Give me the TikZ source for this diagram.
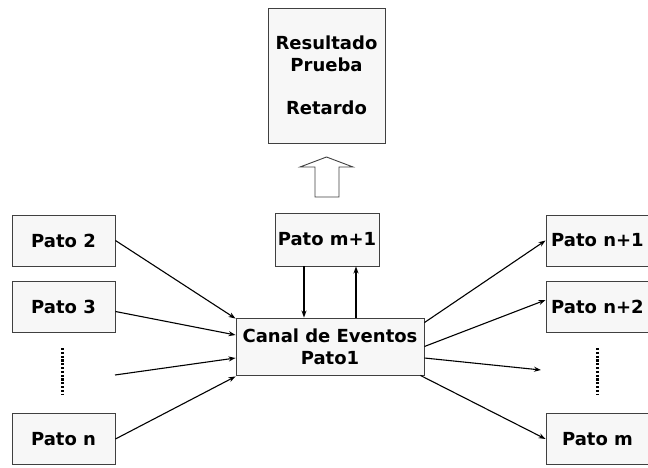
\documentclass[tikz,border=0pt]{standalone}
\usepackage{fontspec}
\setmainfont{DejaVu Sans}
\usetikzlibrary{arrows.meta}
\tikzset{
  box/.style={draw=black!75, line width=0.9pt, fill=black!3, inner sep=0pt, align=center,
    font=\bfseries\fontsize{18}{21.7}\selectfont},
  conn/.style={line width=1.1pt, -{Stealth[length=7pt,width=5pt]}},
  vdots/.style={line width=3pt, dash pattern=on 2.2pt off 1.6pt}
}
\begin{document}
\begin{tikzpicture}[x=1pt,y=-1pt]
\useasboundingbox (0,0) rectangle (648,468);
\node[box, minimum width=117pt, minimum height=135pt] (res) at (326.5,75.5) {Resultado\\Prueba\\[\baselineskip]Retardo};
\node[box, minimum width=104pt, minimum height=53pt] (pm1) at (327,239.5) {Pato m+1};
\node[box, minimum width=188pt, minimum height=57pt] (canal) at (330,346.5) {Canal de Eventos\\Pato1};
\node[box, minimum width=103pt, minimum height=51pt] (p2) at (63.5,240.5) {Pato 2};
\node[box, minimum width=103pt, minimum height=51pt] (p3) at (63.5,306.5) {Pato 3};
\node[box, minimum width=103pt, minimum height=51pt] (pn) at (63.5,439) {Pato n};
\node[box, minimum width=103pt, minimum height=51pt] (pn1) at (597.5,240.5) {Pato n+1};
\node[box, minimum width=103pt, minimum height=51pt] (pn2) at (597.5,306.5) {Pato n+2};
\node[box, minimum width=103pt, minimum height=51pt] (pm) at (597.5,439) {Pato m};
% hollow arrow
\draw[black!75, line width=0.9pt, fill=white] (315,197) -- (315,167) -- (300,167) -- (326.5,157) -- (353,167) -- (339,167) -- (339,197) -- cycle;
% dots
\coordinate (ldt) at (62,348); \coordinate (ldb) at (62,395);
\coordinate (rdt) at (597,348); \coordinate (rdb) at (597,395);
\draw[vdots] (ldt) -- (ldb);
\draw[vdots] (rdt) -- (rdb);
% left arrows
\draw[conn] (p2.east) -- ([yshift=-1pt]canal.north west);
\draw[conn] ([yshift=-5pt]p3.east) -- ([yshift=11.5pt]canal.west);
\coordinate (lfree) at (115,375);
\draw[conn] (lfree) -- ([yshift=-11.5pt]canal.west);
\draw[conn] (pn.east) -- ([yshift=-1pt]canal.south west);
% right arrows
\draw[conn] ([yshift=-5pt]canal.north east) -- (pn1.west);
\draw[conn] (canal.east) -- ([yshift=6.5pt]pn2.west);
\coordinate (rfree) at (541,370);
\draw[conn] ([yshift=-11.5pt]canal.east) -- (rfree);
\draw[conn] ([xshift=-4pt]canal.south east) -- (pm.west);
% vertical arrows
\draw[conn] ([xshift=-23pt]pm1.south) -- ([xshift=-23pt]pm1.south |- canal.north);
\draw[conn] ([xshift=29pt]pm1.south |- canal.north) -- ([xshift=29pt]pm1.south);
\end{tikzpicture}
\end{document}
